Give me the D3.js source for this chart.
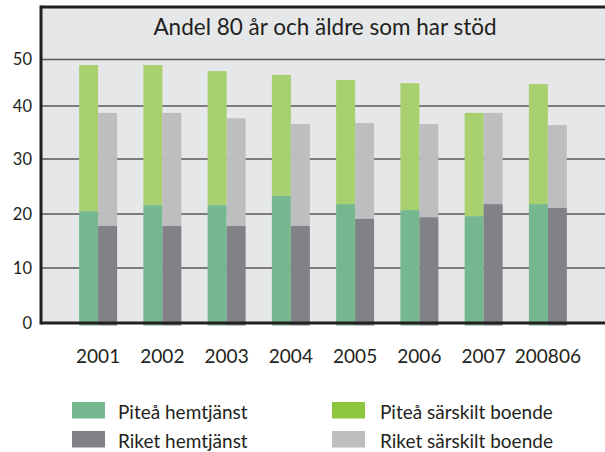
<!DOCTYPE html>
<html><head><meta charset="utf-8">
<script src="https://cdn.jsdelivr.net/npm/d3@7"></script>
<style>
body{margin:0;background:#fff;}
svg{display:block;}
text{font-family:Lato, "Open Sans", sans-serif;fill:#231f20;}
</style></head>
<body>
<script>
const categories = ["2001","2002","2003","2004","2005","2006","2007","200806"];
const piteaHemtjanst = [20.5, 21.6, 21.6, 23.3, 21.8, 20.7, 19.6, 21.8];
const piteaSarskilt  = [28.3, 27.2, 25.9, 23.4, 23.8, 24.2, 19.1, 22.9];
const riketHemtjanst = [17.8, 17.8, 17.8, 17.8, 19.1, 19.4, 21.8, 21.1];
const riketSarskilt  = [20.9, 20.9, 19.9, 18.8, 17.7, 17.2, 16.9, 15.3];
const yTicks = [0, 10, 20, 30, 40, 50];
const title = "Andel 80 år och äldre som har stöd";
const legendItems = [
  {label:"Piteå hemtjänst", color:"#75b88f"},
  {label:"Piteå särskilt boende", color:"#8cc63f"},
  {label:"Riket hemtjänst", color:"#808285"},
  {label:"Riket särskilt boende", color:"#bcbec0"}
];

const W = 605, H = 452;
const svg = d3.select("body").append("svg").attr("width", W).attr("height", H);

const frameLeft = 41, frameTop = 7, frameRight = 610, frameBottom = 323;

// y scale (piecewise as in the original picture)
const y = d3.scaleLinear().domain(yTicks).range([323, 268, 214, 159, 106, 59.5]);
const x = d3.scaleBand().domain(categories).range([66, 580]).paddingInner(0).paddingOuter(0);
const sub = d3.scaleBand().domain(["Piteå","Riket"]).range([-19, 19]);

// background
svg.append("rect").attr("x", frameLeft).attr("y", frameTop)
  .attr("width", frameRight - frameLeft).attr("height", frameBottom - frameTop)
  .attr("fill", "#e6e7e8");

// gridlines
svg.append("g").selectAll("line").data(yTicks.filter(d => d > 0)).join("line")
  .attr("x1", frameLeft).attr("x2", frameRight)
  .attr("y1", d => y(d)).attr("y2", d => y(d))
  .attr("stroke", "#58595b").attr("stroke-width", 1.5);

// bars
const stacks = [
  {grp:"Piteå", lower:piteaHemtjanst, upper:piteaSarskilt, cLow:"#75b88f", cUp:"#a8d06e"},
  {grp:"Riket", lower:riketHemtjanst, upper:riketSarskilt, cLow:"#808285", cUp:"#bcbec0"}
];
stacks.forEach(s => {
  const g = svg.append("g");
  categories.forEach((c, i) => {
    const cx = x(c) + x.bandwidth() / 2 + sub(s.grp);
    const total = s.lower[i] + s.upper[i];
    g.append("rect").attr("x", cx).attr("width", sub.bandwidth())
      .attr("y", y(total)).attr("height", y(s.lower[i]) - y(total)).attr("fill", s.cUp);
    g.append("rect").attr("x", cx).attr("width", sub.bandwidth())
      .attr("y", y(s.lower[i])).attr("height", y(0) + 2.5 - y(s.lower[i])).attr("fill", s.cLow);
  });
});

// frame
svg.append("line").attr("x1", frameLeft).attr("x2", frameRight).attr("y1", frameTop).attr("y2", frameTop)
  .attr("stroke", "#231f20").attr("stroke-width", 3);
svg.append("line").attr("x1", frameLeft).attr("x2", frameLeft).attr("y1", frameTop - 1.5).attr("y2", frameBottom + 1.5)
  .attr("stroke", "#231f20").attr("stroke-width", 3);
svg.append("line").attr("x1", frameLeft).attr("x2", frameRight).attr("y1", frameBottom).attr("y2", frameBottom)
  .attr("stroke", "#231f20").attr("stroke-width", 3);

// y labels
svg.append("g").selectAll("text").data(yTicks).join("text")
  .attr("x", 32).attr("y", d => y(d)).attr("dy", "0.36em")
  .attr("text-anchor", "end").attr("font-size", 16.5).text(d => d);

// title
svg.append("text").attr("x", 325).attr("y", 35).attr("text-anchor", "middle")
  .attr("font-size", 22.5).text(title);

// x labels
svg.append("g").selectAll("text").data(categories).join("text")
  .attr("x", d => x(d) + x.bandwidth() / 2).attr("y", 363).attr("text-anchor", "middle")
  .attr("font-size", 19).text(d => d);

// legend
const lg = svg.append("g").selectAll("g").data(legendItems).join("g")
  .attr("transform", (d, i) => `translate(${i % 2 ? 332 : 72},${i < 2 ? 402 : 431})`);
lg.append("rect").attr("width", 33).attr("height", 16.5).attr("fill", d => d.color);
lg.append("text").attr("x", (d, i) => i % 2 ? 48 : 46).attr("y", 16.5)
  .attr("font-size", 19).text(d => d.label);
</script>
</body></html>
